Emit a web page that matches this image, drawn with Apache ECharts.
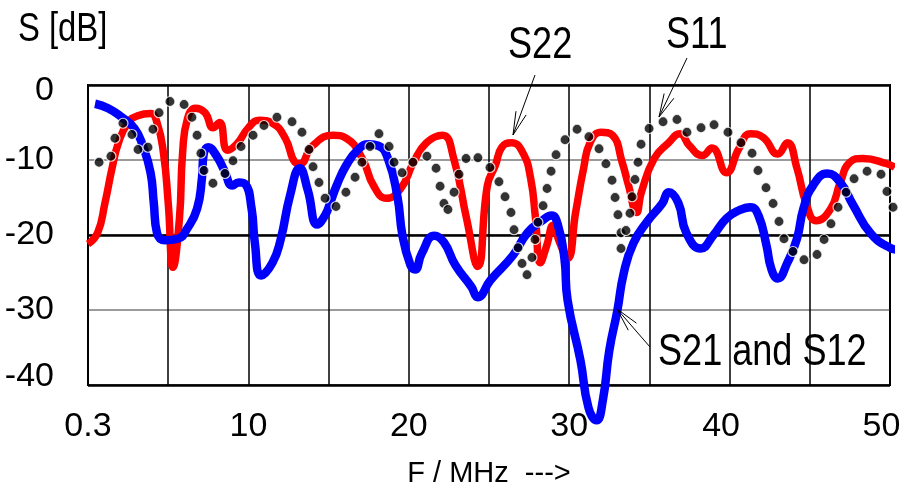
<!DOCTYPE html>
<html>
<head>
<meta charset="utf-8">
<script src="https://cdn.jsdelivr.net/npm/echarts@6/dist/echarts.min.js"></script>
<style>
html,body{margin:0;padding:0;background:#fff;overflow:hidden;}
#chart{width:903px;height:485px;}
</style>
</head>
<body>
<div id="chart"></div>
<script>
// ---------- data ----------
const xTickValues = [0, 10, 20, 30, 40, 50];
const xTickLabels = ['0.3', '10', '20', '30', '40', '50'];
const yTickLabels = ['-40', '-30', '-20', '-10', '0'];

const s22Freq = [0,0.6,1.06,1.5,1.9,2.5,3.1,3.9,4.3,4.7,5.0,5.3,5.7,5.9,6.2,6.7,7.3,7.8,8.2,8.7,9.3,10,10.7,11.5,12.3,12.9,13.2,14,15.3,16.1,17.1,17.8,18.6,19.5,20.3,21.1,22.1,22.8,23.6,24.3,24.9,25.4,25.8,26.4,27.1,27.6,27.9,28.2,28.6,29,29.4,29.9,30.4,30.9,31.3,32,32.7,33.3,33.7,34.2,34.5,35.3,36.2,36.9,37.5,38.3,38.9,39.8,40.6,41.3,42.1,43,43.6,44.2,44.8,45.4,46.3,46.9,47.5,48.3,49.8,50.3];
const s22Db = [-21.2,-19.7,-15.7,-11.1,-7.7,-5,-4.1,-3.8,-5,-9,-15.7,-24.3,-17.8,-9,-4.5,-3.1,-3.7,-5.7,-5,-8.7,-7.8,-5.7,-4.7,-5.1,-7.1,-10.3,-10.5,-8.1,-6.7,-7.1,-9.8,-13.4,-15.1,-13.8,-10.3,-7.7,-6.7,-9.8,-17.8,-24.2,-13.4,-10.7,-8.3,-7.7,-9,-12.5,-17.8,-23.7,-21.4,-18.7,-21,-23.1,-17,-11.1,-7.7,-6.3,-6.7,-10.3,-13.4,-17,-14.3,-9.8,-7.7,-6.5,-8.1,-9.4,-8.4,-11.7,-8.4,-6.5,-7,-9.2,-7.7,-11.1,-16,-18.1,-16.5,-13,-10.3,-9.8,-10.5,-11];

const s21Freq = [0.44,1.25,2.1,2.9,3.4,3.9,4.1,4.3,4.8,5.6,6.2,6.8,7.1,7.2,7.5,8,8.5,9,9.4,9.8,10.2,10.4,10.8,11.5,12.0,12.6,13.2,13.7,14.3,14.8,15.1,15.5,16.1,16.8,17.5,18.1,18.7,19.3,19.6,20.1,20.4,20.8,21.6,22.2,22.9,23.9,24.3,25.1,26.5,27.4,28.3,28.9,29.3,29.7,29.9,30.7,31.2,31.7,32.1,32.5,33,33.4,34,34.9,35.8,36.2,36.8,37.3,38.2,39,39.8,40.6,41.3,41.8,42.3,42.6,43,43.6,44.2,44.6,45.2,46.1,46.9,47.7,48.8,50,50.6];
const s21Db = [-2.5,-3.1,-4.3,-5.8,-8,-11.7,-15.7,-19.7,-20.7,-20.5,-19.1,-16.5,-12.5,-9.4,-8.3,-9.4,-11.4,-13.4,-13,-13.2,-16.5,-21,-25.4,-23.7,-20.7,-14.7,-11.1,-14,-18.6,-17.3,-15.7,-13.4,-10.7,-8.7,-7.9,-8.1,-9.8,-15,-20,-24,-24.6,-22.5,-20.1,-21,-24,-26.9,-28.3,-26,-22.7,-19.7,-18.1,-17.4,-18.7,-23.1,-28.7,-36.7,-43,-44.7,-42,-35.4,-30.1,-25.1,-21.1,-18.1,-15.8,-14.3,-15.7,-19.7,-21.8,-20,-17.8,-16.7,-16.3,-17.4,-21.4,-24.5,-25.8,-23.7,-20.5,-16.5,-13.4,-11.8,-13,-16,-19.8,-21.7,-22];

const s11Freq = [0.69,1.43,1.68,2.18,2.74,3.12,3.74,4.05,4.43,5.11,5.99,6.48,6.80,7.04,7.23,7.79,8.54,9.04,9.54,10.29,10.97,11.78,12.72,13.34,13.78,14.03,14.40,14.78,15.46,16.08,16.65,17.08,17.58,18.14,18.77,19.08,19.58,20.26,21.13,21.70,21.95,22.19,22.44,22.82,23.13,23.57,24.31,25.06,25.62,26.00,26.37,26.56,26.81,27.06,27.37,27.68,27.87,28.05,28.37,28.62,28.87,29.18,29.74,30.49,31.23,31.86,32.29,32.67,32.86,33.04,33.23,33.23,33.54,33.79,33.92,34.10,34.29,34.48,34.98,35.85,36.72,37.34,38.22,39.03,39.90,40.71,41.40,41.77,42.27,42.71,43.08,43.39,43.95,44.64,45.45,45.89,46.32,46.76,47.26,47.76,48.57,49.44,49.81,50.19];
const s11Db = [-10.3,-9.5,-7.1,-5.1,-6.6,-8.6,-8.3,-5.9,-3.7,-2.2,-2.6,-4.3,-6.7,-9.1,-11.4,-13.1,-11.8,-10.1,-8.2,-6.7,-5.4,-4.3,-4.9,-6.3,-8.6,-10.9,-13.0,-15.1,-16.2,-14.3,-12.3,-10.3,-8.2,-6.5,-8.2,-10.3,-11.7,-10.3,-9.5,-11.1,-13.5,-15.8,-16.6,-14.3,-11.9,-9.8,-9.7,-11.0,-12.9,-14.9,-17.0,-19.3,-21.7,-23.8,-25.3,-23.0,-20.6,-18.3,-16.1,-13.8,-11.5,-9.3,-7.3,-5.9,-6.9,-8.5,-10.5,-12.7,-15.0,-17.3,-19.7,-21.8,-19.4,-17.1,-14.9,-12.6,-10.3,-7.9,-5.8,-4.9,-4.6,-6.3,-5.7,-5.3,-6.3,-7.7,-9.1,-11.4,-13.7,-15.8,-18.2,-20.5,-22.2,-23.3,-22.6,-20.6,-18.5,-16.3,-14.3,-12.5,-11.5,-11.9,-14.2,-16.3];

// ---------- rendering ----------
const FONT = "'Liberation Sans', Arial, sans-serif";
const NARROW = 0.82; // horizontal squeeze used for the annotation texts (narrow face in the original)
const zip = (a, b) => a.map((v, i) => [v, b[i]]);

const chart = echarts.init(document.getElementById('chart'), null, {renderer: 'canvas', width: 903, height: 485});

function arrow(tip, tail) {
  const dx = tail[0] - tip[0], dy = tail[1] - tip[1];
  const L = Math.hypot(dx, dy), ux = dx / L, uy = dy / L;
  const len = 24, ang = 13 * Math.PI / 180;
  const rot = (a) => [tip[0] + len * (ux * Math.cos(a) - uy * Math.sin(a)), tip[1] + len * (ux * Math.sin(a) + uy * Math.cos(a))];
  const s = {stroke: '#000', lineWidth: 1, fill: null};
  return [
    {type: 'polyline', shape: {points: [tip, tail]}, style: s, silent: true, z: 50},
    {type: 'polyline', shape: {points: [rot(ang), tip, rot(-ang)]}, style: s, silent: true, z: 50}
  ];
}
function label(text, x, y, size) {
  return {type: 'text', silent: true, z: 50, x: x, y: y, scaleX: NARROW, scaleY: 1,
    style: {text: text, x: 0, y: 0, fill: '#000', fontFamily: FONT, fontSize: size, fontWeight: 'normal', align: 'left', verticalAlign: 'top'}};
}
const tickFont = {fontFamily: FONT, fontSize: 34, color: '#000'};

const option = {
  animation: false,
  backgroundColor: '#fff',
  grid: {left: 88, right: 13, top: 85, bottom: 100, show: true, borderColor: '#000', borderWidth: 2,
         backgroundColor: 'transparent', containLabel: false, outerBoundsMode: 'none'},
  xAxis: {
    type: 'value', min: 0, max: 50, interval: 5,
    name: 'F / MHz  --->', nameLocation: 'middle', nameGap: 74,
    nameTextStyle: {fontFamily: FONT, fontSize: 29, color: '#000', verticalAlign: 'top'},
    axisLine: {show: false}, axisTick: {show: false},
    axisLabel: Object.assign({
      margin: 25,
      formatter: function (v) {
        const i = xTickValues.indexOf(v);
        if (i < 0) return '';
        return v >= 40 ? '{s|' + xTickLabels[i] + '}' : xTickLabels[i];
      },
      rich: {s: Object.assign({padding: [0, 17, 0, 0]}, tickFont)}
    }, tickFont),
    splitLine: {show: true, lineStyle: {color: '#000', width: 1.5}}
  },
  yAxis: [{
    type: 'value', min: -40, max: 0, interval: 10,
    axisLine: {show: false}, axisTick: {show: false},
    axisLabel: Object.assign({
      margin: 34, align: 'right',
      formatter: function (v) {
        const t = yTickLabels[Math.round((v + 40) / 10)];
        if (v === 0) return '{d|' + t + '}';
        if (v === -40) return '{u|' + t + '}';
        return t;
      },
      rich: {
        d: Object.assign({padding: [12, 0, 0, 0]}, tickFont),
        u: Object.assign({padding: [0, 0, 16, 0]}, tickFont)
      }
    }, tickFont),
    splitLine: {show: true, lineStyle: {color: '#7a7a7a', width: 1.5}}
  }, {
    type: 'value', min: -40, max: 0, interval: 20, position: 'left',
    axisLine: {show: false}, axisTick: {show: false}, axisLabel: {show: false},
    splitLine: {show: true, lineStyle: {color: '#000', width: 2.5}}
  }],
  series: [{
    name: 'S22', type: 'line', data: zip(s22Freq, s22Db), clip: false,
    smooth: 0.5, showSymbol: false, symbol: 'none',
    lineStyle: {color: '#ff0000', width: 7.5}, z: 3
  }, {
    name: 'S21 and S12', type: 'line', data: zip(s21Freq, s21Db), clip: false,
    smooth: 0.5, showSymbol: false, symbol: 'none',
    lineStyle: {color: '#0000ff', width: 8.5}, z: 4
  }, {
    name: 'S11', type: 'scatter', data: zip(s11Freq, s11Db), clip: false,
    symbol: 'circle', symbolSize: 10,
    itemStyle: {color: '#000', borderColor: '#fff', borderWidth: 1.2}, z: 5
  }],
  graphic: [
    label('S [dB]', 18, 10, 40),
    label('S22', 508, 24, 44),
    label('S11', 666, 14, 44),
    label('S21 and S12', 658, 331, 44)
  ].concat(arrow([513, 135], [535, 75]), arrow([659, 117], [687, 58]), arrow([617, 309], [650, 347]))
};
chart.setOption(option);
</script>
</body>
</html>
